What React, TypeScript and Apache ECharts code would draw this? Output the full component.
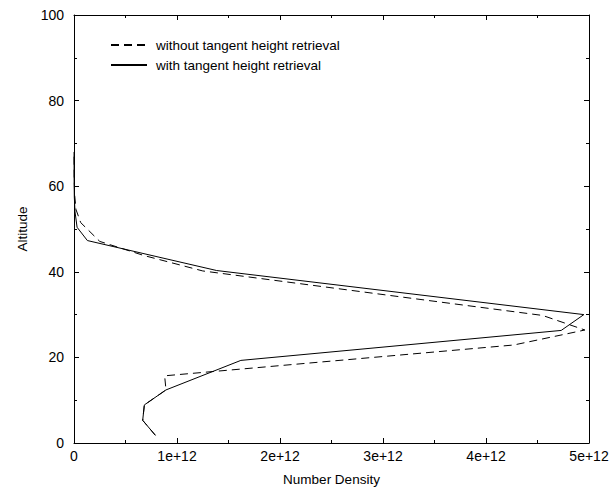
import React, { useEffect, useRef } from "react";
import * as echarts from "echarts";

const withoutX = [0.79, 0.667, 0.683, 0.893, 0.88, 4.27, 4.96, 4.55, 1.25, 0.68, 0.25, 0.065, 0.02, 0.006, 0.002, 0.0005];
const withoutY = [1.8, 5.3, 8.9, 12.4, 15.7, 22.9, 26.4, 29.8, 40.2, 43.8, 47.1, 51.5, 54.5, 58, 62, 68];
const withX = [0.79, 0.667, 0.683, 0.893, 1.62, 4.73, 4.95, 1.385, 0.13, 0.03, 0.01, 0.003, 0.001, 0.0005];
const withY = [1.8, 5.3, 8.9, 12.4, 19.3, 26.3, 30.0, 40.3, 47.3, 50.4, 54, 57.5, 62, 68];
const seriesNames = ["without tangent height retrieval", "with tangent height retrieval"];
const xTicks = [0, 1e12, 2e12, 3e12, 4e12, 5e12];
const yTicks = [0, 20, 40, 60, 80, 100];
const SCALE = 1e12;

const FONT = "'Liberation Sans', Arial, Helvetica, sans-serif";
const TICK_FS = 14;
const TEXT_FS = 13.5;

export default function App() {
  const ref = useRef<HTMLDivElement>(null);
  useEffect(() => {
    if (!ref.current) return;
    const chart = echarts.init(ref.current, null, { renderer: "svg", width: 615, height: 491 });
    const toPairs = (xs: number[], ys: number[]) => xs.map((x, i) => [x * SCALE, ys[i]]);
    const axisCommon = {
      axisLine: { show: true, onZero: false, lineStyle: { color: "#000", width: 1 } },
      axisTick: { show: true, inside: true, length: 5, lineStyle: { color: "#000" } },
      minorTick: { show: true, splitNumber: 2, length: 3, lineStyle: { color: "#000" } },
      splitLine: { show: false },
      minorSplitLine: { show: false },
    };
    chart.setOption({
      animation: false,
      backgroundColor: "#fff",
      textStyle: { fontFamily: FONT },
      grid: { left: 74, top: 15, width: 515, height: 430, containLabel: false },
      legend: {
        show: true,
        orient: "vertical",
        left: 105,
        top: 33,
        padding: 5,
        itemWidth: 36,
        itemHeight: 12,
        itemGap: 6,
        data: seriesNames,
        itemStyle: { opacity: 0 },
        textStyle: { fontFamily: FONT, fontSize: TEXT_FS, color: "#000", padding: [0, 0, 0, 4] },
      },
      xAxis: [
        {
          type: "value",
          min: xTicks[0],
          max: xTicks[xTicks.length - 1],
          interval: xTicks[1] - xTicks[0],
          position: "bottom",
          name: "Number Density",
          nameLocation: "middle",
          nameGap: 29,
          nameTextStyle: { fontFamily: FONT, fontSize: TEXT_FS, color: "#000" },
          axisLabel: {
            fontFamily: FONT,
            fontSize: TICK_FS,
            color: "#000",
            margin: 6,
            formatter: (v: number) => (v === 0 ? "0" : `${Math.round(v / SCALE)}e+12`),
          },
          ...axisCommon,
        },
        {
          type: "value",
          min: xTicks[0],
          max: xTicks[xTicks.length - 1],
          interval: xTicks[1] - xTicks[0],
          position: "top",
          axisLabel: { show: false },
          ...axisCommon,
        },
      ],
      yAxis: [
        {
          type: "value",
          min: yTicks[0],
          max: yTicks[yTicks.length - 1],
          interval: yTicks[1] - yTicks[0],
          position: "left",
          name: "Altitude",
          nameLocation: "middle",
          nameGap: 45,
          nameRotate: 90,
          nameTextStyle: { fontFamily: FONT, fontSize: TEXT_FS, color: "#000" },
          axisLabel: { fontFamily: FONT, fontSize: TICK_FS, color: "#000", margin: 10 },
          ...axisCommon,
        },
        {
          type: "value",
          min: yTicks[0],
          max: yTicks[yTicks.length - 1],
          interval: yTicks[1] - yTicks[0],
          position: "right",
          axisLabel: { show: false },
          ...axisCommon,
        },
      ],
      series: [
        {
          name: seriesNames[0],
          type: "line",
          xAxisIndex: 0,
          yAxisIndex: 0,
          data: toPairs(withoutX, withoutY),
          showSymbol: false,
          symbol: "none",
          lineStyle: { color: "#000", width: 1, type: [8, 5] },
          itemStyle: { color: "#000" },
        },
        {
          name: seriesNames[1],
          type: "line",
          xAxisIndex: 0,
          yAxisIndex: 0,
          data: toPairs(withX, withY),
          showSymbol: false,
          symbol: "none",
          lineStyle: { color: "#000", width: 1, type: "solid" },
          itemStyle: { color: "#000" },
        },
      ],
    });
    return () => chart.dispose();
  }, []);
  return <div ref={ref} style={{ width: 615, height: 491, position: "absolute", left: 0, top: 0 }} />;
}
